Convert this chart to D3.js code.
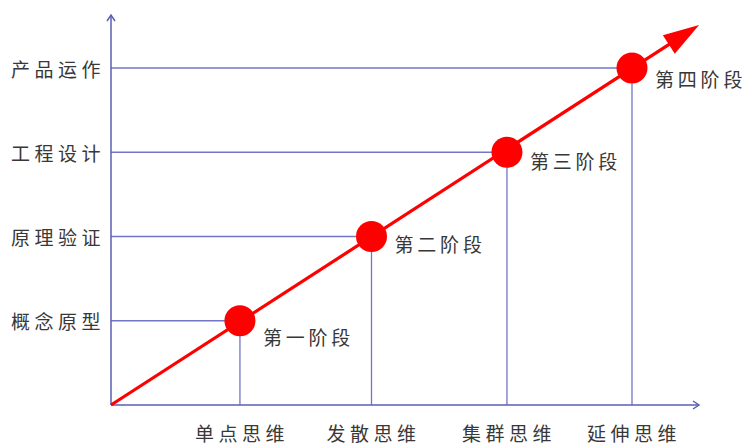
<!DOCTYPE html>
<html><head><meta charset="utf-8">
<script src="https://cdn.jsdelivr.net/npm/d3@7"></script>
<style>body{margin:0;background:#fff}svg{display:block}</style>
</head><body>
<script>
const xCategories = ["单点思维", "发散思维", "集群思维", "延伸思维"];
const yCategories = ["概念原型", "原理验证", "工程设计", "产品运作"];
const stageLabels = ["第一阶段", "第二阶段", "第三阶段", "第四阶段"];
const stageX = [0.99, 2, 3.04, 4];
const stageY = [1, 2, 3, 4];
const arrowEnd = [4.515, 4.51];

const W = 745, H = 444;
const svg = d3.select("body").append("svg").attr("width", W).attr("height", H);
const x = d3.scaleLinear().domain([0, 4]).range([111, 632]);
const y = d3.scaleLinear().domain([0, 4]).range([405, 68]);
const axisColor = "#5b5fb3", guideColor = "#7276c4", red = "#ff0000";
const font = "'Noto Sans CJK SC', sans-serif";
const fs = 19, ls = 4.5;

const pts = stageX.map((v, i) => ({x: v, y: stageY[i], label: stageLabels[i]}));

// guides
svg.selectAll("line.h").data(pts).join("line")
  .attr("x1", x(0)).attr("x2", d => x(d.x)).attr("y1", d => y(d.y)).attr("y2", d => y(d.y))
  .attr("stroke", guideColor).attr("stroke-width", 1.3);
svg.selectAll("line.v").data(pts).join("line")
  .attr("x1", d => x(d.x)).attr("x2", d => x(d.x)).attr("y1", d => y(d.y)).attr("y2", y(0))
  .attr("stroke", guideColor).attr("stroke-width", 1.3);

// axes
const yTop = 15, xRight = 699;
svg.append("line").attr("x1", x(0)).attr("x2", x(0)).attr("y1", y(0)).attr("y2", yTop)
  .attr("stroke", axisColor).attr("stroke-width", 1.5);
svg.append("path").attr("d", `M${x(0)-4},${yTop+6}L${x(0)},${yTop}L${x(0)+4},${yTop+6}`)
  .attr("fill", "none").attr("stroke", axisColor).attr("stroke-width", 1.5);
svg.append("line").attr("x1", x(0)).attr("x2", xRight).attr("y1", y(0)).attr("y2", y(0))
  .attr("stroke", axisColor).attr("stroke-width", 1.5);
svg.append("path").attr("d", `M${xRight-6},${y(0)-4}L${xRight},${y(0)}L${xRight-6},${y(0)+4}`)
  .attr("fill", "none").attr("stroke", axisColor).attr("stroke-width", 1.5);

// red trend line with arrow
const tip = [x(arrowEnd[0]), y(arrowEnd[1])];
const o = [x(0), y(0)];
const dx = tip[0] - o[0], dy = tip[1] - o[1], L = Math.hypot(dx, dy);
const ux = dx / L, uy = dy / L, al = 36, aw = 11;
const base = [tip[0] - ux * al, tip[1] - uy * al];
svg.append("line").attr("x1", o[0]).attr("y1", o[1]).attr("x2", base[0] + ux * 4).attr("y2", base[1] + uy * 4)
  .attr("stroke", red).attr("stroke-width", 3.2);
svg.append("path").attr("d",
  `M${tip[0]},${tip[1]}L${base[0] - uy * aw},${base[1] + ux * aw}L${base[0] + uy * aw},${base[1] - ux * aw}Z`)
  .attr("fill", red);

// points
svg.selectAll("circle").data(pts).join("circle")
  .attr("cx", d => x(d.x)).attr("cy", d => y(d.y)).attr("r", 15.5).attr("fill", red);

// labels
const labelDy = [16, 7, 8, 10];
svg.selectAll("text.stage").data(pts).join("text")
  .attr("x", d => x(d.x) + 23).attr("y", (d, i) => y(d.y) + labelDy[i])
  .attr("dominant-baseline", "central")
  .attr("font-family", font).attr("font-size", fs).attr("letter-spacing", 3.8)
  .attr("fill", "#383838").text(d => d.label);

svg.selectAll("text.ycat").data(yCategories).join("text")
  .attr("x", 105).attr("y", (d, i) => y(i + 1))
  .attr("text-anchor", "end").attr("dominant-baseline", "central")
  .attr("font-family", font).attr("font-size", fs).attr("letter-spacing", ls)
  .attr("fill", "#383838").text(d => d);

svg.selectAll("text.xcat").data(xCategories).join("text")
  .attr("x", (d, i) => x(stageX[i]) + 2).attr("y", 432)
  .attr("text-anchor", "middle").attr("dominant-baseline", "central")
  .attr("font-family", font).attr("font-size", fs).attr("letter-spacing", ls)
  .attr("fill", "#383838").text(d => d);
</script>
</body></html>
